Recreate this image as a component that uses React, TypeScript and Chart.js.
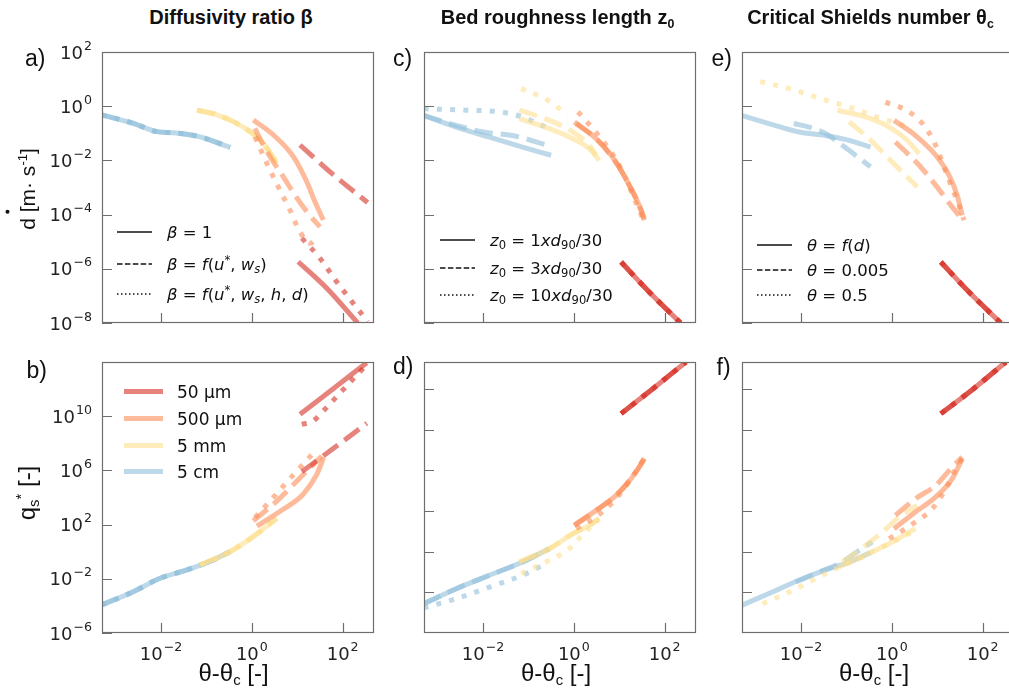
import React, { useEffect, useRef } from "react";
import { Chart, registerables } from "chart.js";

Chart.register(...registerables);

// ---------------- axes & ticks ----------------
const X_MIN = 5e-4;
const X_MAX = 490;
const X_TICKS = [1e-2, 1, 1e2];
const X_TICK_EXPONENTS = ["−2", "0", "2"];

const TOP_Y_MIN = 1e-8;
const TOP_Y_MAX = 1e2;
const TOP_Y_TICKS = [1e2, 1, 1e-2, 1e-4, 1e-6, 1e-8];
const TOP_Y_TICK_EXPONENTS = ["2", "0", "−2", "−4", "−6", "−8"];

const BOT_Y_MIN = 1e-6;
const BOT_Y_MAX = 1e14;
const B_Y_TICKS = [1e10, 1e6, 1e2, 1e-2, 1e-6];
const B_Y_TICK_EXPONENTS = ["10", "6", "2", "−2", "−6"];
const DF_Y_TICKS = [1e12, 1e9, 1e6, 1e3, 1, 1e-3];

const GRAIN_SIZES = ["50 µm", "500 µm", "5 mm", "5 cm"];

// ---------------- data: panel a (deposition rate, diffusivity ratio) ----------------
const A_BLUE = [[4.9e-4, 0.48], [2.45e-3, 0.234], [8.1e-3, 0.115], [1.86e-2, 0.105], [7.2e-2, 0.074], [0.33, 0.03]];
const A_YELLOW = [[0.062, 0.72], [0.17, 0.48], [0.39, 0.27], [0.91, 0.115], [1.78, 0.043], [3.55, 7.8e-3]];
const A_ORANGE_SOLID = [[1.08, 0.31], [2.98, 0.087], [8.2, 0.0138], [16.2, 1.62e-3], [24.5, 3.0e-4], [37.6, 6.3e-5]];
const A_ORANGE_DASHED = [[1.17, 0.151], [1.78, 0.037], [2.95, 8.9e-3], [4.9, 2.5e-3], [8.9, 5.2e-4], [16.2, 1.29e-4], [31.6, 3.5e-5]];
const A_ORANGE_DOTTED = [[1.17, 0.074], [2.14, 7.8e-3], [3.8, 1.07e-3], [6.9, 1.48e-4], [11.2, 2.5e-5], [19.1, 8.7e-6], [28.8, 1.51e-5]];
const A_RED_SOLID = [[10.5, 1.82e-6], [44.7, 1.91e-7], [214, 1.0e-8]];
const A_RED_DASHED = [[11.5, 0.037], [63, 2.9e-3], [355, 2.8e-4]];
const A_RED_DOTTED = [[12.6, 1.35e-5], [31.6, 2.45e-6], [74, 3.3e-7], [355, 1.12e-8]];

// ---------------- data: panel b (transport, diffusivity ratio) ----------------
const B_BLUE = [[4.9e-4, 1.17e-4], [2.45e-3, 1.12e-3], [9.5e-3, 0.011], [0.037, 0.045], [0.141, 0.245], [0.33, 1.0]];
const B_YELLOW = [[0.072, 0.105], [0.33, 1.0], [1.07, 12.9], [3.55, 288]];
const B_ORANGE_SOLID = [[1.29, 79], [4.9, 1350], [13.5, 1.74e4], [26.9, 5.1e5], [38, 8.7e6]];
const B_ORANGE_DASHED = [[1.07, 186], [3.55, 5500], [9.8, 1.66e5], [34.7, 1.15e7]];
const B_ORANGE_DOTTED = [[1.17, 324], [2.95, 1e4], [9.8, 9.1e5], [26.9, 3.6e7]];
const B_RED_SOLID = [[11.5, 1.38e10], [63, 1.12e12], [339, 8.9e13]];
const B_RED_DASHED = [[12.6, 7.9e5], [63, 4.3e7], [339, 3.0e9]];
const B_RED_DOTTED = [[12.6, 2.5e9], [22.4, 4.5e9], [36.3, 2.2e10], [145, 3.2e12], [339, 6.3e13]];

// ---------------- data: panel c (deposition rate, roughness length) ----------------
const C_BLUE_SOLID = [[4.9e-4, 0.457], [2.57e-3, 0.17], [0.0138, 0.072], [0.074, 0.031], [0.316, 0.0155]];
const C_BLUE_DASHED = [[4.9e-4, 0.457], [2.57e-3, 0.195], [0.01, 0.112], [0.045, 0.083], [0.266, 0.036]];
const C_BLUE_DOTTED = [[4.9e-4, 0.81], [4.3e-3, 0.71], [0.023, 0.62], [0.074, 0.4], [0.263, 0.158]];
const C_YELLOW_SOLID = [[0.063, 0.347], [0.29, 0.148], [0.95, 0.063], [2.19, 0.027], [3.63, 0.01]];
const C_YELLOW_DASHED = [[0.063, 0.71], [0.29, 0.3], [0.95, 0.112], [2.19, 0.036], [3.09, 0.0155]];
const C_YELLOW_DOTTED = [[0.069, 4.47], [0.135, 2.9], [0.263, 1.66], [0.72, 0.49]];
const C_ORANGE_SOLID = [[1.03, 0.263], [3.09, 0.063], [8.5, 8.7e-3], [16.6, 1.2e-3], [27.5, 2.19e-4], [35.5, 7.1e-5]];
const C_ORANGE_DASHED = [[1.12, 0.229], [3.39, 0.055], [9.3, 6.6e-3], [18.2, 9.1e-4], [30.2, 1.45e-4], [35.5, 6.2e-5]];
const C_ORANGE_DOTTED = [[1.23, 0.62], [2.82, 0.129], [6.6, 0.0204], [12.0, 3.7e-3], [20.0, 5.1e-4], [33.1, 7.1e-5]];
const C_RED = [[11.0, 1.78e-6], [45.7, 1.38e-7], [224, 1e-8]];

// ---------------- data: panel d (transport, roughness length) ----------------
const D_BLUE = [[4.9e-4, 1.45e-4], [2.57e-3, 1.86e-3], [0.0138, 0.0182], [0.074, 0.174], [0.288, 1.66]];
const D_BLUE_DOTTED = [[4.9e-4, 7.1e-5], [2.57e-3, 3.4e-4], [0.0138, 2.45e-3], [0.074, 0.0182], [0.204, 0.098]];
const D_YELLOW = [[0.063, 0.174], [0.288, 1.66], [0.955, 21.4], [2.19, 89], [3.63, 275]];
const D_YELLOW_DOTTED = [[0.069, 0.024], [0.204, 0.132], [0.407, 0.407], [0.794, 1.66], [1.32, 10], [2.19, 56], [3.39, 200]];
const D_ORANGE = [[1.02, 89], [3.09, 1120], [8.5, 1.45e4], [18.2, 2.45e5], [27.5, 1.78e6], [35.5, 7.4e6]];
const D_ORANGE_DOTTED = [[1.12, 50], [3.39, 479], [8.5, 8100], [18.2, 2.45e5], [33.1, 5.5e6]];
const D_RED = [[11.0, 1.55e10], [55, 1.07e12], [295, 1e14]];

// ---------------- data: panel e (deposition rate, critical Shields) ----------------
const E_BLUE_SOLID = [[4.9e-4, 0.457], [1.95e-3, 0.229], [8.9e-3, 0.112], [0.0347, 0.083], [0.115, 0.055], [0.339, 0.031]];
const E_BLUE_DASHED = [[6.9e-3, 0.229], [0.0148, 0.17], [0.0347, 0.098], [0.081, 0.036], [0.158, 0.0155], [0.339, 5.8e-3]];
const E_YELLOW_SOLID = [[0.063, 0.71], [0.263, 0.4], [0.87, 0.17], [2.0, 0.063], [3.98, 0.0178]];
const E_YELLOW_DASHED = [[0.115, 0.263], [0.316, 0.063], [0.72, 0.0155], [1.7, 3.7e-3], [3.63, 1.05e-3]];
const E_YELLOW_DOTTED = [[1.26e-3, 8.1], [5.4e-3, 4.47], [0.0324, 1.74], [0.115, 0.93], [0.372, 0.457], [1.02, 0.263], [2.82, 0.148]];
const E_ORANGE_SOLID = [[1.12, 0.3], [3.31, 0.083], [9.3, 0.0155], [18.2, 2.8e-3], [27.5, 5.1e-4], [35.5, 9.3e-5]];
const E_ORANGE_DASHED = [[1.2, 0.048], [3.98, 6.6e-3], [9.3, 1.2e-3], [20.0, 2.19e-4], [30.2, 9.3e-5]];
const E_ORANGE_DOTTED = [[0.72, 1.41], [2.4, 0.62], [5.1, 0.195], [8.5, 0.048], [12.9, 8.7e-3], [20.0, 1.2e-3], [30.2, 2.19e-4], [38.9, 6.2e-5]];
const E_RED = [[12.0, 1.78e-6], [50, 1.38e-7], [251, 1e-8]];

// ---------------- data: panel f (transport, critical Shields) ----------------
const F_BLUE_SOLID = [[4.9e-4, 1.1e-4], [2.34e-3, 1.07e-3], [8.9e-3, 7.8e-3], [0.0417, 0.056], [0.115, 0.174], [0.339, 0.85]];
const F_BLUE_DASHED = [[7.6e-3, 5.8e-3], [0.0251, 0.0316], [0.081, 0.174], [0.19, 1.26], [0.372, 5.25]];
const F_YELLOW_SOLID = [[0.069, 0.074], [0.339, 0.85], [1.02, 5.25], [3.31, 50]];
const F_YELLOW_DASHED = [[0.081, 0.174], [0.19, 1.26], [0.617, 28.2], [1.45, 363], [3.63, 2630]];
const F_YELLOW_DOTTED = [[1.41e-3, 1.45e-4], [4.6e-3, 7.9e-4], [0.0151, 5.8e-3], [0.0575, 0.056], [0.19, 0.31], [0.617, 2.24], [1.7, 12], [3.31, 38]];
const F_ORANGE_SOLID = [[1.12, 50], [3.31, 851], [9.3, 1.1e4], [21.4, 2.45e5], [35.5, 7.4e6]];
const F_ORANGE_DASHED = [[1.2, 479], [3.31, 8100], [9.3, 7.9e4], [20, 1.35e6], [35.5, 9.8e6]];
const F_ORANGE_DOTTED = [[0.87, 9.1], [3.31, 155], [7.8, 1510], [15.5, 4.5e4], [25.7, 1.35e6], [35.5, 7.4e6]];
const F_RED = [[12.0, 1.55e10], [63, 1.07e12], [324, 1e14]];

// ---------------- styles ----------------
const GRAIN_COLORS = [
  "rgba(215,48,39,0.6)",
  "rgba(252,141,89,0.6)",
  "rgba(254,224,144,0.6)",
  "rgba(145,191,219,0.6)",
];
const LINE_DASH: any = { solid: [], dashed: [18.5, 8], dotted: [5, 8.25] };
const LEGEND_DASH = [[], [5.5, 2.4], [1.5, 2.5]];
const FRAME_COLOR = "#6e6e6e";
const TICK_TEXT = "#222";
const TICK_FONT_SIZE = 18;

// legend labels (math-like rich text: [text, kind])
const LEGEND_A = [
  [["β", "i"], [" = ", "r"], ["1", "r"]],
  [["β", "i"], [" = ", "r"], ["f", "i"], ["(", "r"], ["u", "i"], ["*", "sup"], [", ", "r"], ["w", "i"], ["s", "isub"], [")", "r"]],
  [["β", "i"], [" = ", "r"], ["f", "i"], ["(", "r"], ["u", "i"], ["*", "sup"], [", ", "r"], ["w", "i"], ["s", "isub"], [", ", "r"], ["h", "i"], [", ", "r"], ["d", "i"], [")", "r"]],
];
const LEGEND_C = [
  [["z", "i"], ["0", "sub"], [" = ", "r"], ["1", "r"], ["xd", "i"], ["90", "sub"], ["/30", "r"]],
  [["z", "i"], ["0", "sub"], [" = ", "r"], ["3", "r"], ["xd", "i"], ["90", "sub"], ["/30", "r"]],
  [["z", "i"], ["0", "sub"], [" = ", "r"], ["10", "r"], ["xd", "i"], ["90", "sub"], ["/30", "r"]],
];
const LEGEND_E = [
  [["θ", "i"], [" = ", "r"], ["f", "i"], ["(", "r"], ["d", "i"], [")", "r"]],
  [["θ", "i"], [" = 0.005", "r"]],
  [["θ", "i"], [" = 0.5", "r"]],
];

// ---------------- series lists ----------------
const SERIES_A = [
  [A_RED_SOLID, 0, "solid"], [A_RED_DASHED, 0, "dashed"], [A_RED_DOTTED, 0, "dotted"],
  [A_ORANGE_SOLID, 1, "solid"], [A_ORANGE_DASHED, 1, "dashed"], [A_ORANGE_DOTTED, 1, "dotted"],
  [A_YELLOW, 2, "solid"], [A_YELLOW, 2, "dashed"], [A_YELLOW, 2, "dotted"],
  [A_BLUE, 3, "solid"], [A_BLUE, 3, "dashed"], [A_BLUE, 3, "dotted"],
];
const SERIES_B = [
  [B_RED_SOLID, 0, "solid"], [B_RED_DASHED, 0, "dashed"], [B_RED_DOTTED, 0, "dotted"],
  [B_ORANGE_SOLID, 1, "solid"], [B_ORANGE_DASHED, 1, "dashed"], [B_ORANGE_DOTTED, 1, "dotted"],
  [B_YELLOW, 2, "solid"], [B_YELLOW, 2, "dashed"], [B_YELLOW, 2, "dotted"],
  [B_BLUE, 3, "solid"], [B_BLUE, 3, "dashed"], [B_BLUE, 3, "dotted"],
];
const SERIES_C = [
  [C_RED, 0, "solid"], [C_RED, 0, "dashed"], [C_RED, 0, "dotted"],
  [C_ORANGE_SOLID, 1, "solid"], [C_ORANGE_DASHED, 1, "dashed"], [C_ORANGE_DOTTED, 1, "dotted"],
  [C_YELLOW_SOLID, 2, "solid"], [C_YELLOW_DASHED, 2, "dashed"], [C_YELLOW_DOTTED, 2, "dotted"],
  [C_BLUE_SOLID, 3, "solid"], [C_BLUE_DASHED, 3, "dashed"], [C_BLUE_DOTTED, 3, "dotted"],
];
const SERIES_D = [
  [D_RED, 0, "solid"], [D_RED, 0, "dashed"], [D_RED, 0, "dotted"],
  [D_ORANGE, 1, "solid"], [D_ORANGE, 1, "dashed"], [D_ORANGE_DOTTED, 1, "dotted"],
  [D_YELLOW, 2, "solid"], [D_YELLOW, 2, "dashed"], [D_YELLOW_DOTTED, 2, "dotted"],
  [D_BLUE, 3, "solid"], [D_BLUE, 3, "dashed"], [D_BLUE_DOTTED, 3, "dotted"],
];
const SERIES_E = [
  [E_RED, 0, "solid"], [E_RED, 0, "dashed"], [E_RED, 0, "dotted"],
  [E_ORANGE_SOLID, 1, "solid"], [E_ORANGE_DASHED, 1, "dashed"], [E_ORANGE_DOTTED, 1, "dotted"],
  [E_YELLOW_SOLID, 2, "solid"], [E_YELLOW_DASHED, 2, "dashed"], [E_YELLOW_DOTTED, 2, "dotted"],
  [E_BLUE_SOLID, 3, "solid"], [E_BLUE_DASHED, 3, "dashed"],
];
const SERIES_F = [
  [F_RED, 0, "solid"], [F_RED, 0, "dashed"], [F_RED, 0, "dotted"],
  [F_ORANGE_SOLID, 1, "solid"], [F_ORANGE_DASHED, 1, "dashed"], [F_ORANGE_DOTTED, 1, "dotted"],
  [F_YELLOW_SOLID, 2, "solid"], [F_YELLOW_DASHED, 2, "dashed"], [F_YELLOW_DOTTED, 2, "dotted"],
  [F_BLUE_SOLID, 3, "solid"], [F_BLUE_DASHED, 3, "dashed"],
];

// ---------------- layout ----------------
const PLOT_W = 272;
const PLOT_H = 271;
const PAD_L = 75;
const PAD_R = 14;
const PAD_T = 14;
const PAD_B = 34;

const PANELS = [
  { key: "a", L: 102, T: 52, series: SERIES_A, row: "top", yLabels: true, xLabels: false, legend: { type: "style", rows: LEGEND_A, x0: 15, x1: 50, tx: 65, ys: [180, 212, 242] } },
  { key: "c", L: 424, T: 52, series: SERIES_C, row: "top", yLabels: false, xLabels: false, legend: { type: "style", rows: LEGEND_C, x0: 16, x1: 51, tx: 66, ys: [188, 216, 243] } },
  { key: "e", L: 742, T: 52, series: SERIES_E, row: "top", yLabels: false, xLabels: false, legend: { type: "style", rows: LEGEND_E, x0: 15, x1: 50, tx: 65, ys: [193, 218, 243] } },
  { key: "b", L: 102, T: 362, series: SERIES_B, row: "bottomB", yLabels: true, xLabels: true, legend: { type: "color", x0: 22, x1: 61, tx: 75, ys: [29.5, 56.5, 83.5, 109.5] } },
  { key: "d", L: 424, T: 362, series: SERIES_D, row: "bottom", yLabels: false, xLabels: true, legend: null },
  { key: "f", L: 742, T: 362, series: SERIES_F, row: "bottom", yLabels: false, xLabels: true, legend: null },
];

// ---------------- drawing helpers ----------------
function drawRich(ctx: any, x: number, y: number, parts: any[], size: number) {
  let cx = x;
  for (const [text, kind] of parts) {
    let fs = size;
    let dy = 0;
    let italic = false;
    if (kind === "i") italic = true;
    if (kind === "sub" || kind === "isub") {
      fs = size * 0.7;
      dy = size * 0.2;
      italic = kind === "isub";
    }
    if (kind === "sup") {
      fs = size * 0.7;
      dy = -size * 0.38;
    }
    ctx.font = `${italic ? "italic " : ""}${fs}px "DejaVu Sans"`;
    ctx.fillText(text, cx, y + dy);
    cx += ctx.measureText(text).width;
  }
}

// power-of-ten label "10^exp" in mathtext style; align: 'right' or 'center'
function drawPow10(ctx: any, x: number, baseline: number, exp: string, align: string) {
  const s = TICK_FONT_SIZE;
  const es = s * 0.7;
  ctx.font = `${s}px "DejaVu Sans"`;
  const wb = ctx.measureText("10").width;
  ctx.font = `${es}px "DejaVu Sans"`;
  const we = ctx.measureText(exp).width;
  const gap = 1;
  const total = wb + gap + we;
  const x0 = align === "right" ? x - total : x - total / 2;
  ctx.font = `${s}px "DejaVu Sans"`;
  ctx.fillText("10", x0, baseline);
  ctx.font = `${es}px "DejaVu Sans"`;
  ctx.fillText(exp, x0 + wb + gap, baseline - s * 0.5);
}

const decorPlugin = {
  id: "decor",
  afterDatasetsDraw(chart: any, _args: any, opts: any) {
    const { ctx, chartArea: ca } = chart;
    const xs = chart.scales.x;
    const ys = chart.scales.y;
    ctx.save();
    ctx.setLineDash([]);
    ctx.strokeStyle = FRAME_COLOR;
    ctx.lineWidth = 1.2;
    ctx.beginPath();
    for (const t of xs.ticks) {
      const p = Math.round(xs.getPixelForValue(t.value)) + 0.5;
      ctx.moveTo(p, ca.bottom);
      ctx.lineTo(p, ca.bottom - 10);
    }
    for (const t of ys.ticks) {
      const p = Math.round(ys.getPixelForValue(t.value)) + 0.5;
      ctx.moveTo(ca.left, p);
      ctx.lineTo(ca.left + 10, p);
    }
    ctx.stroke();
    ctx.strokeRect(ca.left + 0.5, ca.top + 0.5, ca.right - ca.left - 1, ca.bottom - ca.top - 1);

    // tick labels, positioned by the library's scales
    ctx.fillStyle = TICK_TEXT;
    ctx.textBaseline = "alphabetic";
    ctx.textAlign = "left";
    if (opts.xExps) {
      xs.ticks.forEach((t: any, i: number) => {
        drawPow10(ctx, xs.getPixelForValue(t.value), ca.bottom + 27, opts.xExps[i], "center");
      });
    }
    if (opts.yExps) {
      ys.ticks.forEach((t: any, i: number) => {
        drawPow10(ctx, ca.left - 10, ys.getPixelForValue(t.value) + 6.6, opts.yExps[i], "right");
      });
    }

    const lg = opts && opts.legend;
    if (lg) {
      ctx.fillStyle = "#111";
      if (lg.type === "style") {
        lg.rows.forEach((row: any[], i: number) => {
          const y = ca.top + lg.ys[i];
          ctx.strokeStyle = "#111";
          ctx.lineWidth = 1.5;
          ctx.lineCap = "butt";
          ctx.setLineDash(LEGEND_DASH[i]);
          ctx.beginPath();
          ctx.moveTo(ca.left + lg.x0, y);
          ctx.lineTo(ca.left + lg.x1, y);
          ctx.stroke();
          drawRich(ctx, ca.left + lg.tx, y + 6, row, 16.5);
        });
      } else {
        GRAIN_SIZES.forEach((label, i) => {
          const y = ca.top + lg.ys[i];
          ctx.strokeStyle = GRAIN_COLORS[i];
          ctx.lineWidth = 5;
          ctx.lineCap = "butt";
          ctx.setLineDash([]);
          ctx.beginPath();
          ctx.moveTo(ca.left + lg.x0, y);
          ctx.lineTo(ca.left + lg.x1, y);
          ctx.stroke();
          ctx.font = '17px "DejaVu Sans"';
          ctx.fillText(label, ca.left + lg.tx, y + 6);
        });
      }
    }
    ctx.restore();
  },
};

function buildConfig(p: any) {
  const datasets = p.series.map(([data, ci, st]: any) => ({
    data: data.map(([x, y]: number[]) => ({ x, y })),
    borderColor: GRAIN_COLORS[ci],
    borderWidth: 5,
    borderDash: LINE_DASH[st],
    borderCapStyle: "butt",
    borderJoinStyle: "round",
    pointRadius: 0,
    pointHoverRadius: 0,
    fill: false,
    cubicInterpolationMode: "monotone",
    clip: 0,
  }));

  let yMin = TOP_Y_MIN, yMax = TOP_Y_MAX, yTicks = TOP_Y_TICKS, yExps: any = TOP_Y_TICK_EXPONENTS;
  if (p.row === "bottomB") {
    yMin = BOT_Y_MIN; yMax = BOT_Y_MAX; yTicks = B_Y_TICKS; yExps = B_Y_TICK_EXPONENTS;
  } else if (p.row === "bottom") {
    yMin = BOT_Y_MIN; yMax = BOT_Y_MAX; yTicks = DF_Y_TICKS; yExps = null;
  }
  if (!p.yLabels) yExps = null;

  return {
    type: "line",
    data: { datasets },
    plugins: [decorPlugin],
    options: {
      animation: false,
      responsive: false,
      maintainAspectRatio: false,
      events: [],
      layout: { padding: { top: PAD_T, right: PAD_R, left: 0, bottom: 0 } },
      plugins: {
        legend: { display: false },
        tooltip: { enabled: false },
        decor: { legend: p.legend, xExps: p.xLabels ? X_TICK_EXPONENTS : null, yExps },
      },
      scales: {
        x: {
          type: "logarithmic",
          min: X_MIN,
          max: X_MAX,
          bounds: "data",
          afterBuildTicks: (s: any) => {
            s.ticks = X_TICKS.map((v) => ({ value: v }));
          },
          afterFit: (s: any) => {
            s.height = PAD_B;
          },
          ticks: { display: false, autoSkip: false, maxRotation: 0 },
          grid: { display: false, drawTicks: false },
          border: { display: false },
        },
        y: {
          type: "logarithmic",
          min: yMin,
          max: yMax,
          bounds: "data",
          afterBuildTicks: (s: any) => {
            s.ticks = yTicks.map((v) => ({ value: v }));
          },
          afterFit: (s: any) => {
            s.width = PAD_L;
          },
          ticks: { display: false, autoSkip: false },
          grid: { display: false, drawTicks: false },
          border: { display: false },
        },
      },
    },
  };
}

function Panel({ p }: { p: any }) {
  const ref = useRef<HTMLCanvasElement>(null);
  const W = PAD_L + PLOT_W + PAD_R;
  const H = PAD_T + PLOT_H + PAD_B;
  useEffect(() => {
    const chart = new Chart(ref.current as any, buildConfig(p) as any);
    return () => chart.destroy();
  }, []);
  return (
    <canvas
      ref={ref}
      width={W}
      height={H}
      style={{ position: "absolute", left: p.L - PAD_L, top: p.T - PAD_T, width: W, height: H }}
    />
  );
}

const Sub = ({ children }: any) => (
  <span style={{ fontSize: "0.62em", position: "relative", top: "0.3em" }}>{children}</span>
);
const Sup = ({ children }: any) => (
  <span style={{ fontSize: "0.62em", position: "relative", top: "-0.6em" }}>{children}</span>
);
// "d" with a dot above (time derivative)
const DDot = () => (
  <span style={{ position: "relative", display: "inline-block" }}>
    d
    <span
      style={{
        position: "absolute",
        left: "0.75em",
        top: "-0.52em",
        width: 4,
        height: 4,
        borderRadius: 2,
        background: "#111",
      }}
    />
  </span>
);

function Label({ x, y, size, bold, rotate, left, children }: any) {
  return (
    <div
      style={{
        position: "absolute",
        left: x,
        top: y,
        transform: `translate(${left ? "0" : "-50%"}, -50%)${rotate ? " rotate(-90deg)" : ""}`,
        fontSize: size,
        fontWeight: bold ? 700 : 400,
        lineHeight: 1,
        whiteSpace: "nowrap",
      }}
    >
      {children}
    </div>
  );
}

export default function App() {
  return (
    <div
      style={{
        position: "absolute",
        left: 0,
        top: 0,
        width: 1009,
        height: 691,
        overflow: "hidden",
        background: "#fff",
        color: "#111",
        fontFamily: '"Liberation Sans", Arial, "DejaVu Sans", sans-serif',
      }}
    >
      {PANELS.map((p) => (
        <Panel key={p.key} p={p} />
      ))}

      <Label x={231} y={17} size={20} bold>Diffusivity ratio β</Label>
      <Label x={557.5} y={17} size={20} bold>Bed roughness length z<Sub>0</Sub></Label>
      <Label x={870.5} y={17} size={20} bold>Critical Shields number θ<Sub>c</Sub></Label>

      <Label x={25} y={58} size={23} left>a)</Label>
      <Label x={393} y={58} size={23} left>c)</Label>
      <Label x={711.5} y={58} size={23} left>e)</Label>
      <Label x={26.5} y={370} size={23} left>b)</Label>
      <Label x={393} y={366} size={23} left>d)</Label>
      <Label x={716.5} y={367} size={23} left>f)</Label>

      <Label x={233.5} y={673} size={24}>θ-θ<Sub>c</Sub> [-]</Label>
      <Label x={556} y={673} size={24}>θ-θ<Sub>c</Sub> [-]</Label>
      <Label x={874} y={673} size={24}>θ-θ<Sub>c</Sub> [-]</Label>

      <Label x={27} y={189} size={21} rotate><DDot /> [m· s<Sup>-1</Sup>]</Label>
      <Label x={27} y={493} size={24} rotate>q<Sub>s</Sub><Sup>*</Sup> [-]</Label>
    </div>
  );
}
